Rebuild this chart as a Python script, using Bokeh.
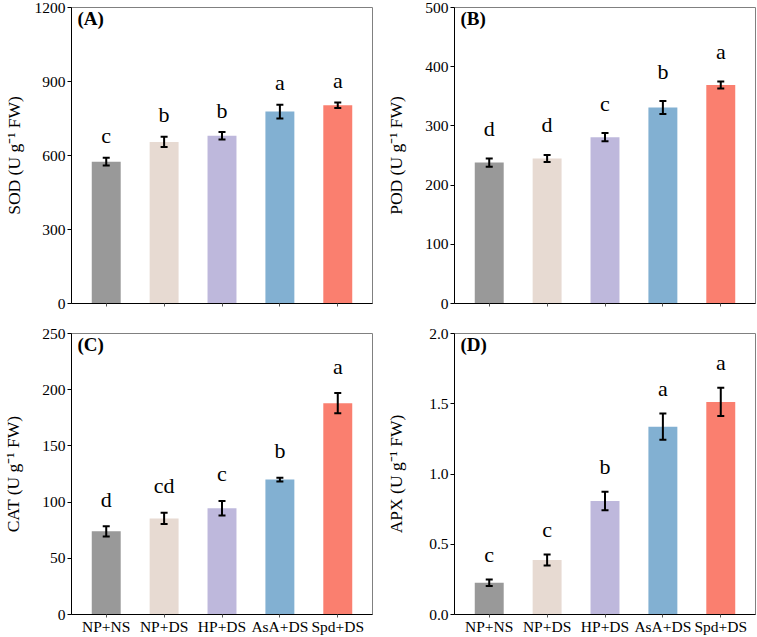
from bokeh.plotting import figure
from bokeh.models import Range1d, FixedTicker, Whisker, TeeHead, ColumnDataSource
from bokeh.layouts import column, row
from bokeh.embed import file_html
from bokeh.resources import INLINE
from bokeh.core.properties import value

# ---------------- data ----------------
categories = ["NP+NS", "NP+DS", "HP+DS", "AsA+DS", "Spd+DS"]
bar_colors = ["#999999", "#E7DAD2", "#BEB8DC", "#82B0D2", "#FA7F6F"]

sod_mean = [575, 655, 680, 778, 804]
sod_sd = [16, 21, 15, 28, 11]
sod_letters = ["c", "b", "b", "a", "a"]
sod_ticks = [0, 300, 600, 900, 1200]
sod_tick_labels = ["0", "300", "600", "900", "1200"]

pod_mean = [238, 245, 281, 331, 369]
pod_sd = [7, 6, 7, 11, 6]
pod_letters = ["d", "d", "c", "b", "a"]
pod_ticks = [0, 100, 200, 300, 400, 500]
pod_tick_labels = ["0", "100", "200", "300", "400", "500"]

cat_mean = [74, 85.5, 94.5, 120, 188]
cat_sd = [4.5, 5, 6.5, 1.6, 9]
cat_letters = ["d", "cd", "c", "b", "a"]
cat_ticks = [0, 50, 100, 150, 200, 250]
cat_tick_labels = ["0", "50", "100", "150", "200", "250"]

apx_mean = [0.226, 0.388, 0.808, 1.337, 1.513]
apx_sd = [0.024, 0.039, 0.066, 0.094, 0.10]
apx_letters = ["c", "c", "b", "a", "a"]
apx_ticks = [0.0, 0.5, 1.0, 1.5, 2.0]
apx_tick_labels = ["0.0", "0.5", "1.0", "1.5", "2.0"]

FONT = "Liberation Serif"


def make_panel(mean, sd, letters, ticks, tick_labels, ylabel, tag, show_x,
               width, height, borders, label_standoff, letter_offset):
    n = len(categories)
    xs = list(range(n))
    upper = [m + s for m, s in zip(mean, sd)]
    lower = [m - s for m, s in zip(mean, sd)]
    src = ColumnDataSource(dict(x=xs, top=mean, upper=upper, lower=lower,
                                color=bar_colors, letter=letters))
    p = figure(width=width, height=height, output_backend="svg",
               toolbar_location=None,
               x_range=Range1d(-0.6, n - 1 + 0.6),
               y_range=Range1d(ticks[0], ticks[-1]),
               min_border_left=borders[0], min_border_right=borders[1],
               min_border_top=borders[2], min_border_bottom=borders[3])
    p.vbar(x="x", top="top", width=0.5, bottom=0, color="color",
           line_color=None, source=src)
    p.add_layout(Whisker(base="x", upper="upper", lower="lower", source=src,
                         level="annotation",
                         line_color="black", line_width=2,
                         upper_head=TeeHead(size=7, line_width=2, line_color="black"),
                         lower_head=TeeHead(size=7, line_width=2, line_color="black")))
    p.text(x="x", y="upper", text="letter", source=src, y_offset=-letter_offset,
           text_align="center", text_baseline="alphabetic",
           text_font=value(FONT), text_font_size="22px", text_color="black")
    p.text(x=[p.x_range.start], y=[p.y_range.end], text=[tag],
           x_offset=6, y_offset=0, text_align="left", text_baseline="top",
           text_font=value(FONT), text_font_size="19px", text_font_style="bold",
           text_color="black")

    p.grid.visible = False
    p.outline_line_color = "#808080"
    p.outline_line_width = 1
    p.background_fill_color = "white"
    p.border_fill_color = "white"

    ya = p.yaxis[0]
    ya.ticker = FixedTicker(ticks=ticks)
    ya.major_label_overrides = {t: l for t, l in zip(ticks, tick_labels)}
    ya.minor_tick_line_color = None
    ya.major_tick_out = 4
    ya.major_tick_in = 0
    ya.major_label_standoff = 2
    ya.major_label_text_font = FONT
    ya.major_label_text_font_size = "15.5px"
    ya.major_label_text_color = "black"
    ya.axis_line_color = "black"
    ya.major_tick_line_color = "black"
    ya.axis_label = ylabel
    ya.axis_label_text_font = FONT
    ya.axis_label_text_font_size = "17.5px"
    ya.axis_label_text_font_style = "normal"
    ya.axis_label_text_color = "black"
    ya.axis_label_standoff = label_standoff

    xa = p.xaxis[0]
    xa.ticker = FixedTicker(ticks=xs)
    xa.minor_tick_line_color = None
    xa.major_tick_out = 3
    xa.major_tick_in = 0
    xa.major_label_standoff = 0
    xa.major_label_text_font = FONT
    xa.major_label_text_font_size = "15.5px"
    xa.major_label_text_color = "black"
    xa.axis_line_color = "black"
    xa.major_tick_line_color = "#555555"
    if show_x:
        xa.major_label_overrides = {i: c for i, c in zip(xs, categories)}
    else:
        xa.major_label_overrides = {i: "" for i in xs}
    return p


pa = make_panel(sod_mean, sod_sd, sod_letters, sod_ticks, sod_tick_labels,
                "SOD (U g\u207b\u00b9 FW)", "(A)", False, 383, 318,
                (68, 11, 7, 15), 8, 22)
pb = make_panel(pod_mean, pod_sd, pod_letters, pod_ticks, pod_tick_labels,
                "POD (U g\u207b\u00b9 FW)", "(B)", False, 374, 318,
                (69, 2, 7, 15), 16, 30)
pc = make_panel(cat_mean, cat_sd, cat_letters, cat_ticks, cat_tick_labels,
                "CAT (U g\u207b\u00b9 FW)", "(C)", True, 383, 319,
                (68, 11, 15, 21), 16, 27)
pd_ = make_panel(apx_mean, apx_sd, apx_letters, apx_ticks, apx_tick_labels,
                 "APX (U g\u207b\u00b9 FW)", "(D)", True, 374, 319,
                 (69, 2, 15, 21), 20, 25)

layout = column(row(pa, pb), row(pc, pd_))
open("out.html", "w").write(file_html(layout, INLINE))
